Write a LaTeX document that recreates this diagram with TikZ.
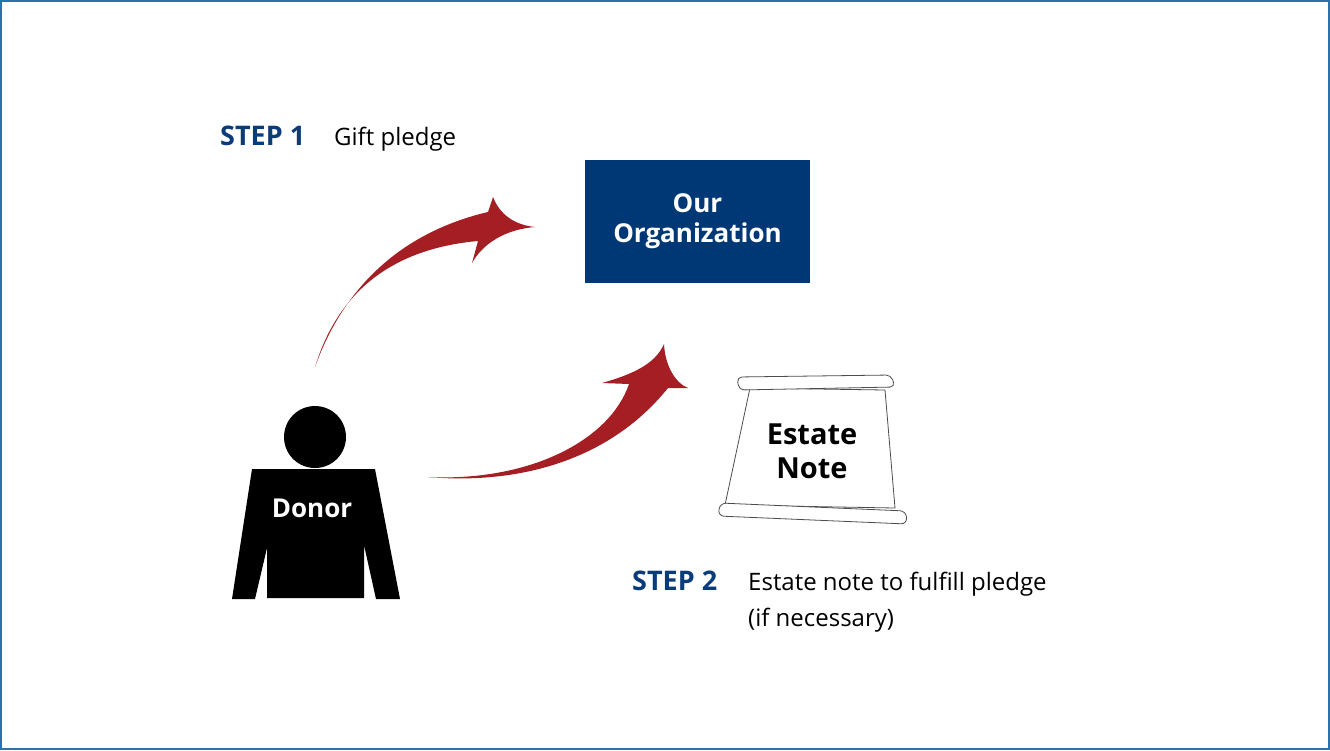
\documentclass[tikz,border=0pt]{standalone}
\usepackage{fontspec}
\setmainfont{Open Sans}
\definecolor{navy}{HTML}{003876}
\definecolor{stepblue}{HTML}{0B3C7A}
\definecolor{arrowred}{HTML}{A51E23}
\definecolor{frame}{HTML}{2A72AE}
\begin{document}
\begin{tikzpicture}[x=1pt,y=-1pt,
  lbl/.style={font=\fontsize{26}{30}\selectfont\bfseries, align=center, inner sep=0},
  steplbl/.style={font=\fontsize{27}{30}\selectfont\bfseries, text=stepblue, anchor=base west, inner sep=0},
  desc/.style={font=\fontsize{24}{30}\selectfont, anchor=base west, inner sep=0},
  scrollline/.style={draw=black!70, line width=0.8pt, fill=white, line join=round}]
\useasboundingbox (0,0) rectangle (1330,750);
\draw[frame, line width=1.5pt] (1,1) rectangle (1329,749);
% organization box
\node[fill=navy, minimum width=225, minimum height=123, inner sep=0] (org) at (697.5,221.5) {};
\node[lbl, text=white] (orgt) at (org) {Our\\Organization};
% donor
\fill (315,437) circle (31);
\fill (252,469) -- (375,469) -- (400,599) -- (376,599) -- (364,545) -- (364,598) -- (267,598) -- (267,548) -- (255,599) -- (232,599) -- cycle;
\node[lbl, text=white] (donor) at (312,508) {Donor};
% arrows
\fill[arrowred] (315,367) .. controls (350,270) and (420,228) .. (488,212)
  -- (493,197) .. controls (500,215) and (515,225) .. (535,227)
  .. controls (510,229) and (485,240) .. (472,263)
  -- (478,241) .. controls (400,248) and (340,285) .. cycle;
\fill[arrowred] (427,477) .. controls (530,482) and (610,440) .. (629,384)
  -- (602,383) .. controls (630,375) and (655,365) .. (664,344)
  .. controls (665,365) and (675,383) .. (688,388)
  -- (668,388) .. controls (610,460) and (520,485) .. cycle;
% scroll
\draw[scrollline] (750,388) -- (885,390) -- (895,508) -- (725,505) -- cycle;
\draw[scrollline, rounded corners=5] (737,377) -- (891,375) -- (895,387) -- (739,390) -- cycle;
\draw[scrollline, rounded corners=6] (720,503) -- (906,511) -- (907,524) -- (718,516) -- cycle;
\node[lbl, font=\fontsize{29}{34}\selectfont\bfseries] (estate) at (812,451) {Estate\\Note};
% texts
\node[steplbl] (s1) at (220,145) {STEP 1};
\node[desc] (d1) at (334,145) {Gift pledge};
\node[steplbl] (s2) at (632,590) {STEP 2};
\node[desc] (d2) at (748,590) {Estate note to fulfill pledge};
\node[desc] (d3) at (748,626) {(if necessary)};
\end{tikzpicture}
\end{document}
